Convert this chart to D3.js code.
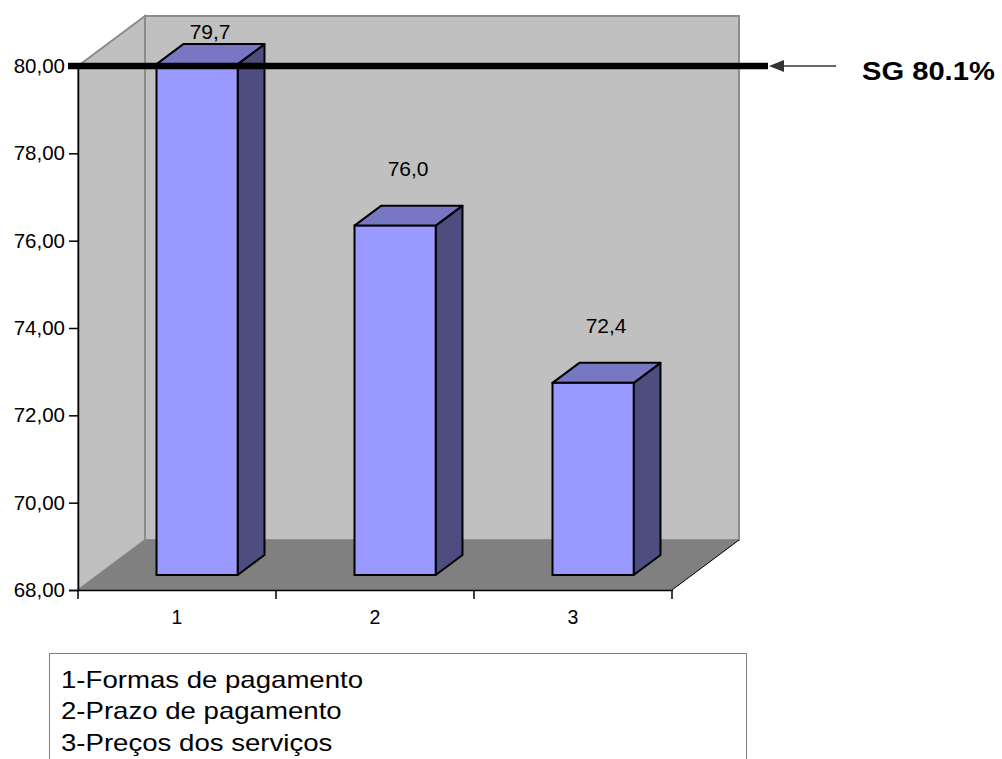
<!DOCTYPE html>
<html><head><meta charset="utf-8">
<script src="https://cdn.jsdelivr.net/npm/d3@7"></script>
<style>
html,body{margin:0;padding:0;background:#fff;}
svg{display:block;}
text{font-family:"Liberation Sans",Arial,sans-serif;}
</style></head>
<body>
<svg id="chart" width="1002" height="759"></svg>
<script>
// ---- data ----
const categories = ["1", "2", "3"];
const values = [79.7, 76.0, 72.4];
const valueLabels = ["79,7", "76,0", "72,4"];
const yTicks = [68, 70, 72, 74, 76, 78, 80];
const legendItems = ["1-Formas de pagamento", "2-Prazo de pagamento", "3-Preços dos serviços"];
const sgLineValue = 80;
const sgLabel = "SG 80.1%";

// ---- layout ----
const svg = d3.select("#chart");
const y = d3.scaleLinear().domain([68, 80]).range([590, 66]);
const x = d3.scaleBand().domain(categories).range([78, 672]);
const DX = 67, DY = 50;           // 3D depth offset
const dFront = 0.3, dBack = 0.7;   // bar depth position
const barFrac = 0.41;

const x0 = x.range()[0], x1 = x.range()[1];
const yb = y(68), yt = y(80);
const pts = a => a.map(p => p.join(",")).join(" ");

// back wall
svg.append("polygon").attr("points", pts([[x0+DX, yt-DY],[x1+DX, yt-DY],[x1+DX, yb-DY],[x0+DX, yb-DY]]))
  .attr("fill", "#c0c0c0").attr("stroke", "#8c8c8c").attr("stroke-width", 2);
// left wall
svg.append("polygon").attr("points", pts([[x0, yb],[x0, yt],[x0+DX, yt-DY],[x0+DX, yb-DY]]))
  .attr("fill", "#c0c0c0").attr("stroke", "#8c8c8c").attr("stroke-width", 2);
// floor
svg.append("polygon").attr("points", pts([[x0, yb],[x1, yb],[x1+DX, yb-DY],[x0+DX, yb-DY]]))
  .attr("fill", "#808080").attr("stroke", "none");
svg.append("line").attr("x1", x1).attr("y1", yb).attr("x2", x1+DX).attr("y2", yb-DY)
  .attr("stroke", "#000").attr("stroke-width", 1);

// bars
const data = categories.map((c, i) => ({c, v: values[i], label: valueLabels[i]}));
const bw = x.bandwidth() * barFrac;
const g = svg.append("g");
data.forEach(d => {
  const fl = x(d.c) + (x.bandwidth() - bw) / 2 + DX * dFront;
  const fr = fl + bw;
  const ft = y(d.v) - DY * dFront;
  const fb = y(68) - DY * dFront;
  const ddx = DX * (dBack - dFront), ddy = DY * (dBack - dFront);
  g.append("polygon").attr("points", pts([[fr, fb],[fr+ddx, fb-ddy],[fr+ddx, ft-ddy],[fr, ft]]))
    .attr("fill", "#4d4d80").attr("stroke", "#000").attr("stroke-width", 2).attr("stroke-linejoin", "round");
  g.append("polygon").attr("points", pts([[fl, ft],[fr, ft],[fr+ddx, ft-ddy],[fl+ddx, ft-ddy]]))
    .attr("fill", "#7777c4").attr("stroke", "#000").attr("stroke-width", 2).attr("stroke-linejoin", "round");
  g.append("rect").attr("x", fl).attr("y", ft).attr("width", bw).attr("height", fb - ft)
    .attr("fill", "#9999ff").attr("stroke", "#000").attr("stroke-width", 2);
  svg.append("text").attr("x", (fl + fr) / 2 + 13).attr("y", Math.max(39, ft - ddy - 30))
    .attr("text-anchor", "middle").attr("font-size", 21).attr("fill", "#000").text(d.label);
});

// y axis
const yAxis = d3.axisLeft(y).tickValues(yTicks).tickSize(9).tickPadding(4)
  .tickFormat(v => d3.format(".2f")(v).replace(".", ","));
const ya = svg.append("g").attr("transform", `translate(${x0},0)`).call(yAxis);
ya.select(".domain").attr("stroke", "#000").attr("stroke-width", 1.5);
ya.selectAll(".tick line").attr("stroke", "#000").attr("stroke-width", 1.5);
ya.selectAll("text").attr("font-size", 20.5).attr("font-family", "Liberation Sans, Arial, sans-serif").attr("fill", "#000");

// x axis
const xAxis = d3.axisBottom(x).tickSize(0).tickPadding(20);
const xa = svg.append("g").attr("transform", `translate(0,${yb})`).call(xAxis);
xa.select(".domain").attr("stroke", "#000").attr("stroke-width", 1.5);
xa.selectAll("text").attr("font-size", 19.5).attr("font-family", "Liberation Sans, Arial, sans-serif").attr("fill", "#000");
const bounds = categories.map(c => x(c)).concat([x1]);
xa.selectAll(".bt").data(bounds).enter().append("line").attr("class", "bt")
  .attr("x1", d => d).attr("x2", d => d).attr("y1", 0).attr("y2", 9)
  .attr("stroke", "#000").attr("stroke-width", 1.5);

// SG line and arrow
const ySG = y(sgLineValue);
svg.append("line").attr("x1", 68).attr("x2", 768).attr("y1", ySG).attr("y2", ySG)
  .attr("stroke", "#000").attr("stroke-width", 6.5);
svg.append("line").attr("x1", 836).attr("x2", 780).attr("y1", ySG).attr("y2", ySG)
  .attr("stroke", "#333").attr("stroke-width", 1.5);
svg.append("polygon").attr("points", pts([[769, ySG],[784, ySG-6],[784, ySG+6]])).attr("fill", "#333");
svg.append("text").attr("transform", `translate(862,80) scale(1.1,1)`)
  .attr("font-size", 26.5).attr("font-weight", "bold").attr("fill", "#000").text(sgLabel);

// legend box
svg.append("rect").attr("x", 49.5).attr("y", 653.5).attr("width", 697).attr("height", 130)
  .attr("fill", "#fff").attr("stroke", "#7f7f7f").attr("stroke-width", 1);
const lg = svg.append("g").attr("transform", "translate(61,0) scale(1.2,1)");
lg.selectAll("text").data(legendItems).enter().append("text")
  .attr("x", 0).attr("y", (d, i) => 688 + i * 31.5)
  .attr("font-size", 23).attr("fill", "#000").text(d => d);
</script>
</body></html>
